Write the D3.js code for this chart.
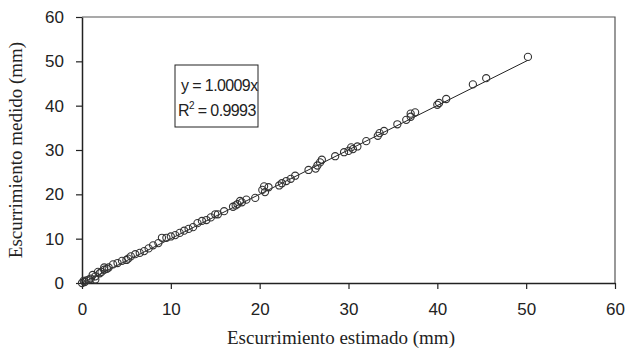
<!DOCTYPE html>
<meta charset="utf-8" />
<script src="https://d3js.org/d3.v7.min.js"></script>
<style>
  body { margin: 0; background: #fff; }
  .tick text { font-family: "Liberation Sans", Arial, sans-serif; font-size: 17px; fill: #222; }
  .ttl { font-family: "Liberation Serif", "Times New Roman", serif; font-size: 19px; fill: #222; }
  .eq { font-family: "Liberation Sans", Arial, sans-serif; font-size: 16px; fill: #222; letter-spacing: -0.6px; }
</style>
<body>
<div id="my_dataviz"></div>
<script>
// estimated runoff (x) and measured runoff (y), mm
const estimado = [50.2, 45.5, 44, 41, 40.2, 40, 37.5, 37, 37, 36.5, 35.5, 34, 33.5, 33.3, 32, 31, 30.5, 30.3, 30,
  29.5, 28.5, 27, 26.8, 26.5, 26.3, 25.5, 24, 23.5, 23, 22.5, 22.2, 21, 20.5, 20.3, 20.6, 19.5, 18.5, 18, 17.8,
  17.5, 17.3, 17, 16, 15.3, 15, 14.5, 14, 13.5, 13, 12.5, 12, 11.5, 11, 10.5, 10, 9.5, 9, 8.6, 8, 7.5, 7, 6.5,
  6, 5.5, 5.2, 5, 4.5, 4, 3.5, 3, 2.8, 2.5, 2.2, 2, 1.8, 1.5, 1.2, 1, 0.8, 0.5, 0.3, 0, 0.2, 1.5, 2.5];
const medido = [51, 46.2, 44.8, 41.5, 40.6, 40.2, 38.5, 38.2, 37.5, 36.8, 35.8, 34.3, 33.8, 33.2, 32, 30.8, 30.2, 30.6, 29.8,
  29.5, 28.6, 27.8, 27.2, 26.5, 25.8, 25.5, 24.2, 23.5, 23, 22.5, 22, 21.6, 21.8, 21, 20.5, 19.2, 18.8, 18.2, 18.5,
  17.8, 17.5, 17.2, 16.2, 15.5, 15.5, 14.8, 14.2, 14, 13.5, 12.6, 12.2, 11.8, 11.3, 10.8, 10.5, 10.2, 10.2, 9, 8.5, 7.8, 7.2, 6.8,
  6.5, 6, 5.5, 5.2, 5, 4.5, 4.2, 3.5, 3.2, 3, 2.5, 2.2, 2.5, 1.5, 1.8, 1, 0.8, 0.6, 0.2, 0, 0.5, 0.8, 3.5];
const xTicks = [0, 10, 20, 30, 40, 50, 60];
const yTicks = [0, 10, 20, 30, 40, 50, 60];
const pendiente = 1.0009;
const lineaX = [0, 50.2];
const eqLabels = ["y = 1.0009x", "R2 = 0.9993"];

var margin = { top: 17, right: 11, bottom: 69, left: 82 },
  width = 626 - margin.left - margin.right,
  height = 352 - margin.top - margin.bottom;

var svg = d3.select("#my_dataviz").append("svg")
  .attr("width", 626).attr("height", 352)
  .append("g")
  .attr("transform", "translate(" + margin.left + "," + margin.top + ")");

var x = d3.scaleLinear().domain([0, 60]).range([0, width]);
var y = d3.scaleLinear().domain([0, 60]).range([height, 0]);

// frame (top and right)
svg.append("path")
  .attr("d", "M0,0H" + width + "V" + height)
  .attr("fill", "none").attr("stroke", "#555").attr("stroke-width", 1.2);

var gx = svg.append("g")
  .attr("transform", "translate(0," + height + ")")
  .call(d3.axisBottom(x).tickValues(xTicks).tickSize(6).tickPadding(14).tickSizeOuter(0));
var gy = svg.append("g")
  .call(d3.axisLeft(y).tickValues(yTicks).tickSize(6).tickPadding(12).tickSizeOuter(0));
[gx, gy].forEach(function (g) {
  g.select(".domain").attr("stroke", "#222").attr("stroke-width", 1.5);
  g.selectAll(".tick line").attr("stroke", "#222").attr("stroke-width", 1.2);
});

// fit line
svg.append("line")
  .attr("x1", x(lineaX[0])).attr("y1", y(pendiente * lineaX[0]))
  .attr("x2", x(lineaX[1])).attr("y2", y(pendiente * lineaX[1]))
  .attr("stroke", "#222").attr("stroke-width", 1);

// points
svg.selectAll("circle")
  .data(estimado.map(function (d, i) { return { e: d, m: medido[i] }; }))
  .enter().append("circle")
  .attr("cx", function (d) { return x(d.e); })
  .attr("cy", function (d) { return y(d.m); })
  .attr("r", 3.6)
  .attr("fill", "none")
  .attr("stroke", "#333")
  .attr("stroke-width", 1.1);

// equation box
var box = svg.append("g").attr("transform", "translate(93,48)");
box.append("rect").attr("width", 83).attr("height", 62)
  .attr("fill", "#fff").attr("stroke", "#222").attr("stroke-width", 1);
box.append("text").attr("class", "eq").attr("x", 6).attr("y", 26)
  .text(eqLabels[0]);
var r2 = box.append("text").attr("class", "eq").attr("x", 3).attr("y", 51);
r2.append("tspan").text("R");
r2.append("tspan").attr("dy", -7).style("font-size", "10px").text("2");
r2.append("tspan").attr("dy", 7).text(eqLabels[1].slice(2));

// titles
svg.append("text").attr("class", "ttl")
  .attr("x", 259).attr("y", 327).attr("text-anchor", "middle")
  .text("Escurrimiento estimado (mm)");
svg.append("text").attr("class", "ttl")
  .attr("transform", "translate(-60," + (height / 2) + ")rotate(-90)")
  .attr("text-anchor", "middle")
  .text("Escurrimiento medido (mm)");
</script>
</body>
